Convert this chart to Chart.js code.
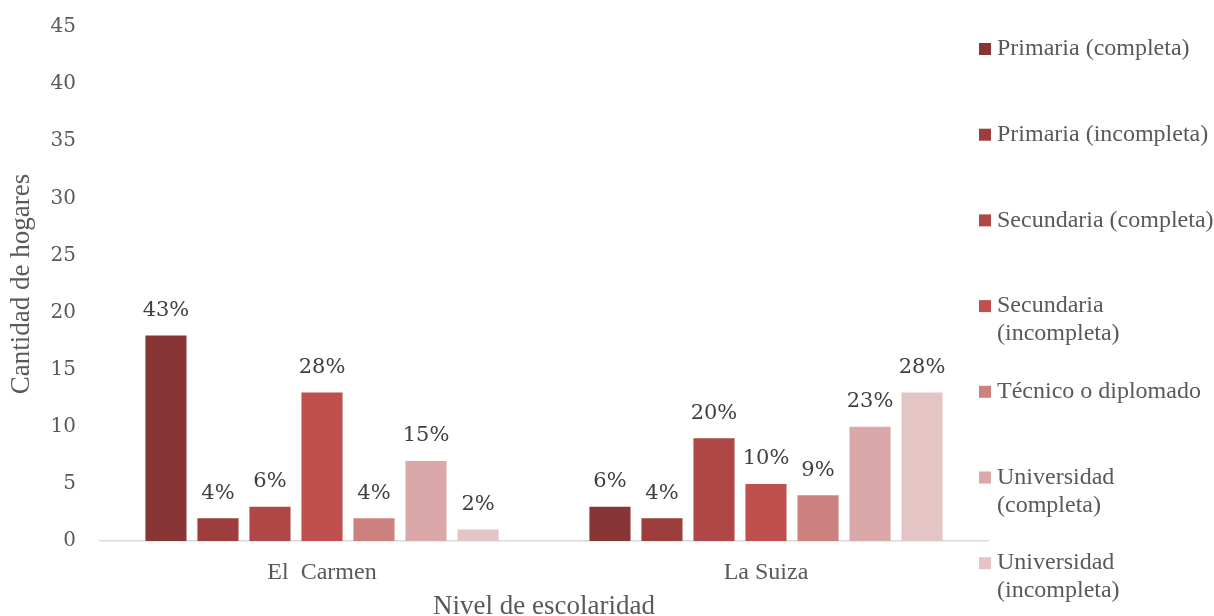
<!DOCTYPE html>
<html>
<head>
<meta charset="utf-8">
<script src="https://cdn.jsdelivr.net/npm/chart.js@4.4.0/dist/chart.umd.min.js"></script>
<style>
html,body{margin:0;padding:0;background:#fff;}
#wrap{width:1214px;height:616px;position:relative;}
</style>
</head>
<body>
<div id="wrap"><canvas id="c" width="1214" height="616"></canvas></div>
<script>
const categories = ['El  Carmen', 'La Suiza'];
const seriesNames = ['Primaria (completa)', 'Primaria (incompleta)', 'Secundaria (completa)', 'Secundaria (incompleta)', 'Técnico o diplomado', 'Universidad (completa)', 'Universidad (incompleta)'];
const legendLines = [['Primaria (completa)'], ['Primaria (incompleta)'], ['Secundaria (completa)'], ['Secundaria', '(incompleta)'], ['Técnico o diplomado'], ['Universidad', '(completa)'], ['Universidad', '(incompleta)']];
const elCarmen = [18, 2, 3, 13, 2, 7, 1];
const laSuiza = [3, 2, 9, 5, 4, 10, 13];
const pctElCarmen = ['43%', '4%', '6%', '28%', '4%', '15%', '2%'];
const pctLaSuiza = ['6%', '4%', '20%', '10%', '9%', '23%', '28%'];
const yTicks = [0, 5, 10, 15, 20, 25, 30, 35, 40, 45];
const colors = ['#873535', '#9E3E3C', '#AE4746', '#C0504D', '#CD817F', '#DAA8A8', '#E4C4C5'];

const datasets = seriesNames.map((name, i) => ({
  label: name,
  data: [elCarmen[i], laSuiza[i]],
  pct: [pctElCarmen[i], pctLaSuiza[i]],
  backgroundColor: colors[i],
  borderWidth: 0,
  categoryPercentage: 0.82,
  barPercentage: 0.79
}));

const labelPlugin = {
  id: 'pctLabels',
  afterDatasetsDraw(chart) {
    const ctx = chart.ctx;
    ctx.save();
    ctx.font = '21px "DejaVu Serif"';
    ctx.fillStyle = '#404040';
    ctx.textAlign = 'center';
    ctx.textBaseline = 'middle';
    chart.data.datasets.forEach((ds, i) => {
      const meta = chart.getDatasetMeta(i);
      meta.data.forEach((bar, j) => {
        ctx.fillText(ds.pct[j], bar.x, bar.y - 25);
      });
    });
    ctx.restore();
  }
};

const legendPlugin = {
  id: 'sideLegend',
  afterDraw(chart) {
    const ctx = chart.ctx;
    ctx.save();
    ctx.font = '24px "Liberation Serif"';
    ctx.textBaseline = 'middle';
    ctx.textAlign = 'left';
    const x0 = chart.chartArea.right - 9;
    const y0 = 49, step = 85.7, lh = 28;
    legendLines.forEach((lines, i) => {
      const y = y0 + i * step;
      ctx.fillStyle = colors[i];
      ctx.fillRect(x0, y - 6, 12, 12);
      ctx.fillStyle = '#595959';
      lines.forEach((t, k) => ctx.fillText(t, x0 + 18, y + k * lh));
    });
    ctx.restore();
  }
};

new Chart(document.getElementById('c'), {
  type: 'bar',
  data: { labels: categories, datasets },
  plugins: [labelPlugin, legendPlugin],
  options: {
    responsive: false,
    animation: false,
    layout: { padding: { left: 0, right: 226, top: 27, bottom: 0 } },
    plugins: { legend: { display: false }, tooltip: { enabled: false } },
    scales: {
      x: {
        grid: { display: false, drawTicks: false },
        border: { display: true, color: '#D9D9D9', width: 1.5 },
        ticks: { color: '#595959', font: { family: 'Liberation Serif', size: 24 }, padding: 17 },
        title: { display: true, text: 'Nivel de escolaridad', color: '#595959', font: { family: 'Liberation Serif', size: 27, lineHeight: 0.7 }, padding: 0 },
        afterFit(s) { s.height = 75; }
      },
      y: {
        min: 0, max: 45,
        afterBuildTicks(s) { s.ticks = yTicks.map(v => ({ value: v })); },
        grid: { display: false, drawTicks: true, tickLength: 22 },
        border: { display: false },
        ticks: { color: '#595959', font: { family: 'DejaVu Serif', size: 20 }, padding: 2 },
        title: { display: true, text: 'Cantidad de hogares', color: '#595959', font: { family: 'Liberation Serif', size: 27, lineHeight: 1.2 }, padding: { top: 6, bottom: 0 } },
        afterFit(s) { s.width = 100; }
      }
    }
  }
});
</script>
</body>
</html>
